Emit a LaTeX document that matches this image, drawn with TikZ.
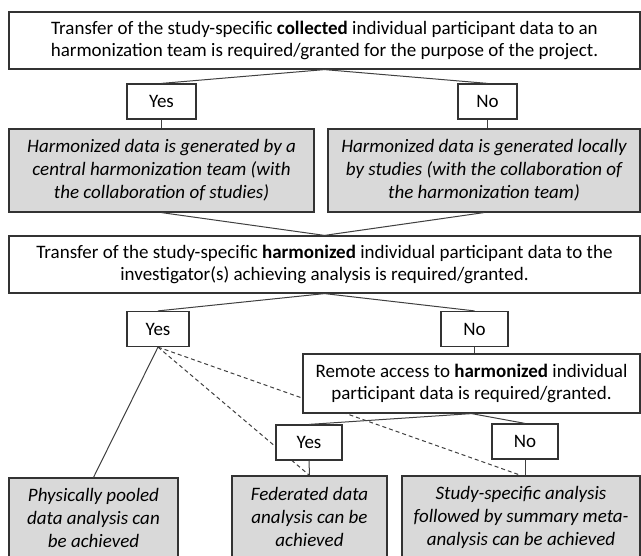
\documentclass[tikz,border=0pt]{standalone}
\usepackage{fontspec}
\setmainfont{Carlito}
\usetikzlibrary{backgrounds}

\begin{document}
\begin{tikzpicture}[x=1pt,y=-1pt,
  box/.style={draw=black!80,fill=white,line width=1.2pt,align=center,inner sep=0pt,
    font=\fontsize{19}{22.5}\selectfont},
  answer/.style={box,minimum height=35pt},
  outcome/.style={box,fill=black!15,font=\fontsize{19}{23}\selectfont\itshape,minimum height=83pt},
  link/.style={draw=black!75,line width=1pt},
  maybe/.style={link,dash pattern=on 4pt off 3pt}]
\useasboundingbox (0,0) rectangle (641,556);
\clip (0,0) rectangle (641,556);
\node[box,minimum width=631pt,minimum height=57pt] (collected) at (324.5,40.5)
  {Transfer of the study-specific \textbf{collected} individual participant data to an\\
   harmonization team is required/granted for the purpose of the project.};
\foreach \n/\t/\x/\y/\w in {yesA/Yes/161.5/101.5/69, noA/No/487.5/101.5/59,
    yesB/Yes/158/329/62, noB/No/474.5/329/67, yesC/Yes/309/442.5/66, noC/No/525/441.5/66} {
  \node[answer,minimum width=\w pt] (\n) at (\x,\y) {\t};
}
\node[outcome,minimum width=305pt] (central) at (161.5,170.5)
  {Harmonized data is generated by a\\central harmonization team (with\\the collaboration of studies)};
\node[outcome,minimum width=312pt] (local) at (484,170.5)
  {Harmonized data is generated locally\\by studies (with the collaboration of\\the harmonization team)};
\node[box,minimum width=631pt,minimum height=57pt] (harmonized) at (324.5,264.5)
  {Transfer of the study-specific \textbf{harmonized} individual participant data to the\\
   investigator(s) achieving analysis is required/granted.};
\node[box,minimum width=337pt,minimum height=59pt] (remote) at (471.5,383.5)
  {Remote access to \textbf{harmonized} individual\\participant data is required/granted.};
\node[outcome,minimum width=169pt,minimum height=80pt] (pooled) at (93.5,518)
  {Physically pooled\\data analysis can\\be achieved};
\node[outcome,minimum width=155pt,minimum height=82pt] (federated) at (309.5,517)
  {Federated data\\analysis can be\\achieved};
\node[outcome,minimum width=238pt,minimum height=82pt] (metaan) at (521,517)
  {Study-specific analysis\\followed by summary meta-\\analysis can be achieved};
\foreach \a/\b in {collected/yesA,collected/noA,yesA/central,central/harmonized,local/harmonized,
    harmonized/yesB,harmonized/noB,yesB/pooled,remote/yesC,remote/noC,yesC/federated} {
  \draw[link] (\a.south) -- (\b.north);
}
\draw[link] (noA.south) -- (noA.south |- local.north);
\draw[link] (noB.south) -- (noB.south |- remote.north);
\draw[link] (noC.south) -- (noC.south |- metaan.north);
\begin{pgfonlayer}{background}
\draw[maybe] (yesB.south) -- (federated.north);
\draw[maybe] (yesB.south) -- (metaan.north);
\end{pgfonlayer}
\end{tikzpicture}
\end{document}
